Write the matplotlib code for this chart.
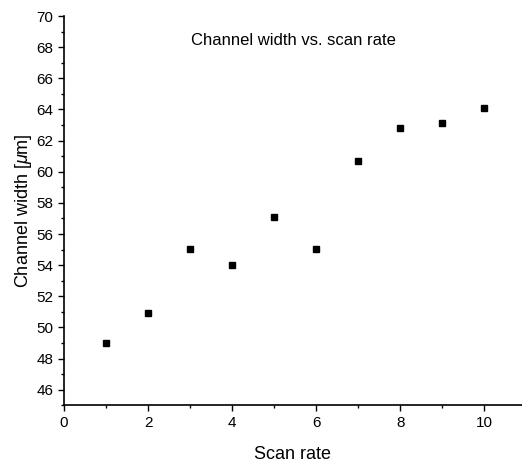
import numpy as np
import matplotlib
matplotlib.use("Agg")
import matplotlib.pyplot as plt
from matplotlib.ticker import MultipleLocator

plt.rcParams["font.family"] = ["Liberation Sans", "DejaVu Sans"]
plt.rcParams["mathtext.fontset"] = "custom"
plt.rcParams["mathtext.it"] = "Liberation Sans:italic"
plt.rcParams["mathtext.rm"] = "Liberation Sans"

# Channel width measured at each scan rate
scan_rate = [1, 2, 3, 4, 5, 6, 7, 8, 9, 10]
channel_width = [49.0, 50.9, 55.05, 54.0, 57.1, 55.05, 60.7, 62.8, 63.1, 64.1]

fig = plt.figure(figsize=(5.22, 4.63), dpi=100)
ax = fig.add_axes([0.1226, 0.1246, 0.8774, 0.8408])

ax.plot(scan_rate, channel_width, ls="none", marker="s", ms=4.8, color="black")

ax.set_xlim(0, 10.9)
ax.set_ylim(45, 70)
ax.xaxis.set_major_locator(MultipleLocator(2))
ax.xaxis.set_minor_locator(MultipleLocator(1))
ax.yaxis.set_major_locator(MultipleLocator(2))
ax.yaxis.set_minor_locator(MultipleLocator(1))
ax.set_yticks(np.arange(46, 71, 2))

for side in ["top", "right"]:
    ax.spines[side].set_visible(False)
ax.spines["left"].set_linewidth(1.2)
ax.spines["bottom"].set_linewidth(1.2)
ax.tick_params(which="major", direction="out", length=4, width=1, labelsize=11)
ax.tick_params(which="minor", direction="out", length=2.5, width=1)

ax.set_xlabel("Scan rate", fontsize=13, labelpad=12)
ax.set_ylabel(r"Channel width [$\mu$m]", fontsize=13, labelpad=2)
ax.text(0.5, 0.938, "Channel width vs. scan rate", transform=ax.transAxes,
        ha="center", va="center", fontsize=12)

fig.savefig("out.png", dpi=100)
